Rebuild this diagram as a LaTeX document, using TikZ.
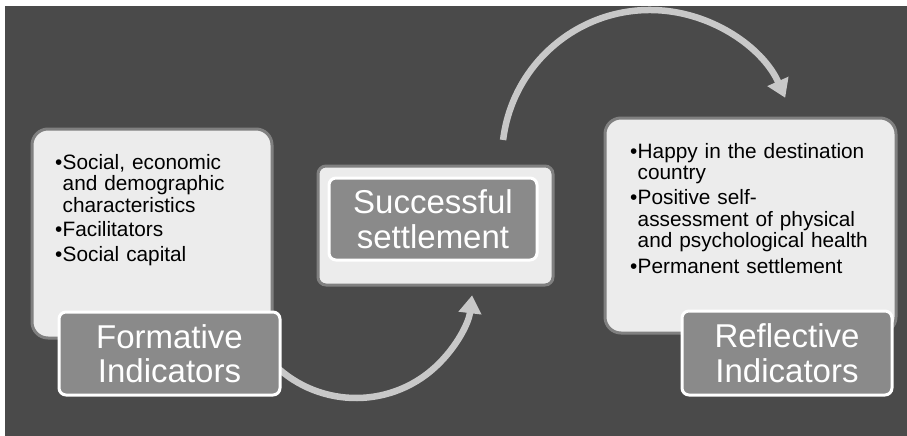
\documentclass[tikz,border=0pt]{standalone}
\usepackage{fontspec}
\setmainfont{Liberation Sans}
\usetikzlibrary{arrows.meta}
\definecolor{bgdark}{HTML}{4A4A4A}
\definecolor{boxfill}{HTML}{ECECEC}
\definecolor{boxline}{HTML}{808080}
\definecolor{labfill}{HTML}{8A8A8A}
\definecolor{arrowc}{HTML}{C8C8C8}
\newcommand{\bfirst}[1]{\hangindent=7.5pt\hangafter=1\noindent\makebox[7.5pt][l]{•}#1}
\newcommand{\bitem}[1]{\par\bfirst{#1}}
\tikzset{
  outerbox/.style={draw=boxline, line width=3pt, fill=boxfill, anchor=north west, inner sep=0pt},
  labelbox/.style={draw=white, line width=3pt, fill=labfill, rounded corners=7pt, anchor=north west,
    text=white, font=\fontsize{33}{34.5}\selectfont, align=center, inner sep=0pt},
  bullettext/.style={text=black, font=\fontsize{20.8}{21.6}\selectfont, text width=265pt, align=left,
    inner sep=0pt, anchor=base west},
  conn/.style={draw=arrowc, line width=6.5pt, -{Triangle[length=18pt,width=22pt]}},
}
\begin{document}
\begin{tikzpicture}[x=1pt,y=-1pt]
\useasboundingbox (0,0) rectangle (907,436);
\fill[white] (0,0) rectangle (907,436);
\fill[bgdark] (5,6) rectangle (907,436);
% arc centres
\coordinate (c1) at (356,281);
\coordinate (c2) at (650,158);
\draw[conn] (c1) ++(140:117) arc[start angle=140, end angle=7, radius=117];
\draw[conn] (c2) ++(-173:148) arc[start angle=-173, end angle=-24, radius=148];
% boxes
\node[outerbox, rounded corners=16pt, minimum width=240pt, minimum height=209pt] (lbox) at (30.5,127.5) {};
\node[outerbox, rounded corners=8pt, minimum width=235pt, minimum height=119pt] (mbox) at (316.5,164.5) {};
\node[outerbox, rounded corners=16pt, minimum width=291pt, minimum height=215pt] (rbox) at (603.5,116.5) {};
\node[labelbox, minimum width=221pt, minimum height=83pt] (flab) at (57.5,310.5) {Formative\\Indicators};
\node[labelbox, minimum width=208pt, minimum height=82pt] (mlab) at (327.5,176.5) {Successful\\settlement};
\node[labelbox, minimum width=210pt, minimum height=84pt] (rlab) at (680.5,309.5) {Reflective\\Indicators};
% bullet texts
\node[bullettext] (ltext) at (55,169) {\bfirst{Social, economic\newline and demographic\newline characteristics}\setlength{\parskip}{3pt}\bitem{Facilitators}\bitem{Social capital}};
\node[bullettext] (rtext) at (630,158) {\bfirst{Happy in the destination\newline country}\setlength{\parskip}{3.5pt}\bitem{Positive self-\newline assessment of physical\newline and psychological health}\bitem{Permanent settlement}};
\end{tikzpicture}
\end{document}
